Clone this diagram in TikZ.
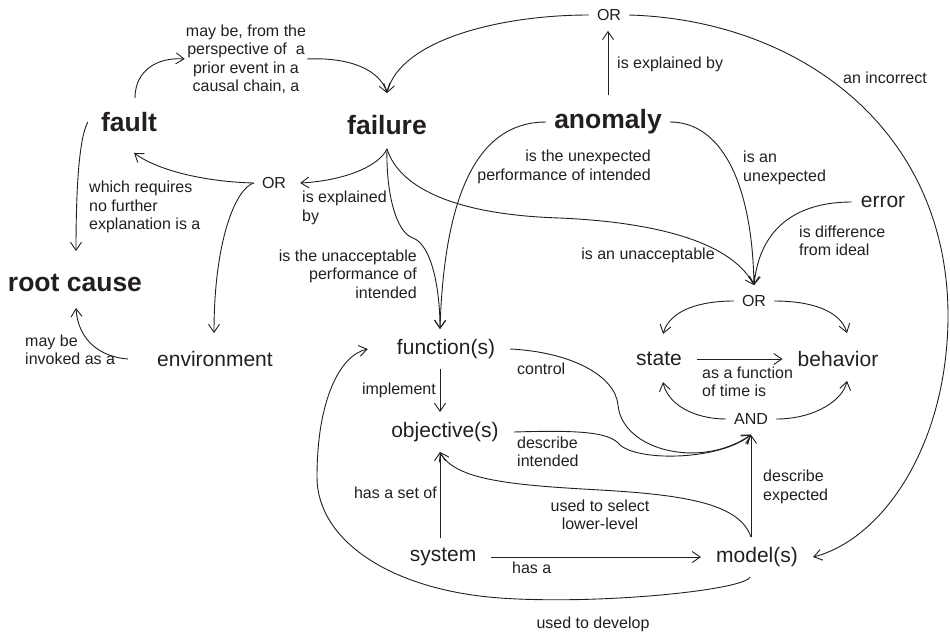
\documentclass[tikz,border=0pt]{standalone}
\usepackage{fontspec}
\setmainfont{Liberation Sans}
\usepackage{tikz}
\usetikzlibrary{arrows.meta, calc}
\definecolor{ink}{HTML}{231F20}
\tikzset{
  key_node/.style={inner xsep=8pt, inner ysep=14pt, font=\fontsize{26.5}{30}\selectfont\bfseries, text=ink},
  concept_node/.style={inner xsep=15pt, inner ysep=10pt, font=\fontsize{21}{24}\selectfont, text=ink},
  gate_node/.style={inner xsep=8pt, inner ysep=10pt, font=\fontsize{16}{18.5}\selectfont, text=ink},
  link_label/.style={inner sep=1pt, font=\fontsize{16}{18.5}\selectfont, text=ink},
  arrow/.style={-{Straight Barb[length=8pt, width=11pt]}, line width=0.9pt, draw=ink}
}

\begin{document}
\begin{tikzpicture}[x=1pt, y=-1pt]
  \useasboundingbox (0,0) rectangle (950,632);

  % Main concepts
  \node[key_node] (fault) at (129,122) {fault};
  \node[key_node] (failure) at (387,125) {failure};
  \node[key_node] (anomaly) at (608,122) {anomaly};
  \node[key_node] (root_cause) at (75,283) {root cause};
  \node[concept_node] (error) at (883,202) {error};
  \node[concept_node] (environment) at (215,359) {environment};
  \node[concept_node] (function) at (446,349) {function(s)};
  \node[concept_node] (objective) at (445,432) {objective(s)};
  \node[concept_node] (system) at (443,557) {system};
  \node[concept_node] (model) at (757,557) {model(s)};
  \node[concept_node] (state) at (659,359) {state};
  \node[concept_node] (behavior) at (838,359) {behavior};

  % Logic gates
  \node[gate_node] (or_top) at (609,15) {OR};
  \node[gate_node] (or_mid) at (274,183) {OR};
  \node[gate_node] (or_right) at (754,301) {OR};
  \node[gate_node] (and_gate) at (751,419) {AND};

  % Link labels
  \node[link_label, align=center] (lbl_prior) at (246,59) {may be, from the\\perspective of~ a\\prior event in a\\causal chain, a};
  \node[link_label, anchor=west, align=left] (lbl_nofurther) at (88,207) {which requires\\no further\\explanation is a};
  \node[link_label, anchor=west, align=left] (lbl_invoked) at (24,350) {may be\\invoked as a};
  \node[link_label, anchor=west, align=left] (lbl_fail_expl) at (301,208) {is explained\\by};
  \node[link_label, anchor=east, align=right] (lbl_unacc_perf) at (418,274) {is the unacceptable\\performance of\\intended};
  \node[link_label, anchor=west] (lbl_anom_expl) at (616,64) {is explained by};
  \node[link_label] (lbl_incorrect) at (885,78) {an incorrect};
  \node[link_label, anchor=east, align=right] (lbl_unexp_perf) at (652,167) {is the unexpected\\performance of intended};
  \node[link_label, anchor=west, align=left] (lbl_unexp) at (742,168) {is an\\unexpected};
  \node[link_label, anchor=west, align=left] (lbl_diff) at (798,241) {is difference\\from ideal};
  \node[link_label] (lbl_unacc) at (648,255) {is an unacceptable};
  \node[link_label, anchor=west, align=left] (lbl_time) at (701,382) {as a function\\of time is};
  \node[link_label, anchor=west] (lbl_control) at (516,369) {control};
  \node[link_label, anchor=west, align=left] (lbl_intended) at (516,452) {describe\\intended};
  \node[link_label, anchor=east] (lbl_implement) at (437,390) {implement};
  \node[link_label, anchor=east] (lbl_setof) at (438,493) {has a set of};
  \node[link_label, align=center] (lbl_select) at (600,515) {used to select\\lower-level};
  \node[link_label, anchor=west, align=left] (lbl_expected) at (762,487) {describe\\expected};
  \node[link_label, anchor=west] (lbl_hasa) at (511,568) {has a};
  \node[link_label] (lbl_develop) at (593,624) {used to develop};

  % fault, failure and the top OR
  \draw[arrow] ([xshift=6pt]fault.north) .. controls (135,70) and (158,57) .. (lbl_prior.west);
  \draw[arrow] (lbl_prior.east) .. controls (350,57) and (380,70) .. ([yshift=8pt]failure.north);
  \draw[arrow] (or_top.west) .. controls (500,15) and (400,40) .. ([yshift=8pt]failure.north);
  \draw[arrow] (or_top.east) .. controls (800,20) and (950,130) .. (948,320) .. controls (946,450) and (880,540) .. (model.east);
  \draw[arrow] (anomaly.north) -- (anomaly.north |- or_top.south);

  % failure
  \draw[arrow] (failure.south) .. controls (378,168) and (340,181) .. ([xshift=6pt]or_mid.east);
  \draw[arrow] (failure.south) .. controls (386,190) and (395,232) .. (413,238) .. controls (432,245) and (440,290) .. ([xshift=-6pt]function.north);
  \draw[arrow] (failure.south) .. controls (400,190) and (460,215) .. (560,218) .. controls (650,222) and (730,240) .. (or_right.north);

  % anomaly and error
  \draw[arrow] (anomaly.west) .. controls (490,122) and (445,170) .. ([xshift=-6pt]function.north);
  \draw[arrow] (anomaly.east) .. controls (720,122) and (752,180) .. (or_right.north);
  \draw[arrow] ([xshift=6pt]error.west) .. controls (800,202) and (760,225) .. (or_right.north);

  % middle OR, root cause
  \draw[arrow] (or_mid.west) .. controls (210,182) and (160,172) .. ([xshift=5pt,yshift=-7pt]fault.south);
  \draw[arrow] (or_mid.west) .. controls (236,188) and (214,240) .. ([xshift=-1pt,yshift=8pt]environment.north);
  \draw[arrow] ([xshift=-5pt]fault.west) .. controls (78,140) and (76,200) .. ([xshift=1pt,yshift=9pt]root_cause.north);
  \draw[arrow] ([xshift=-14pt]environment.west) .. controls (100,357) and (78,340) .. ([xshift=1pt,yshift=-2pt]root_cause.south);

  % function, objective, system, model
  \draw[arrow] ([xshift=-6pt]function.south) -- ([xshift=-5pt]objective.north);
  \draw[arrow] ([xshift=-3pt]system.north) -- ([xshift=-5pt]objective.south);
  \draw[arrow] (system.east) -- (model.west);
  \draw[arrow] (model.north -| and_gate.south) -- (and_gate.south);
  \draw[arrow] (model.north -| and_gate.south) .. controls (740,505) and (690,495) .. (600,490) .. controls (510,485) and (455,480) .. ([xshift=-5pt]objective.south);
  \draw[arrow] ([xshift=-7pt]model.south) .. controls (745,590) and (600,605) .. (500,598) .. controls (390,590) and (317,540) .. (317,477) .. controls (317,400) and (340,355) .. ([xshift=-14pt]function.west);
  \draw[arrow] (function.east) .. controls (570,352) and (615,375) .. (618,405) .. controls (622,450) and (700,470) .. (and_gate.south);
  \draw[arrow] (objective.east) .. controls (580,430) and (610,432) .. (620,445) .. controls (640,462) and (720,460) .. (and_gate.south);

  % state and behavior
  \draw[arrow] (or_right.west) .. controls (700,301) and (670,310) .. ([xshift=4pt,yshift=8pt]state.north);
  \draw[arrow] (or_right.east) .. controls (810,301) and (840,310) .. ([xshift=9pt,yshift=8pt]behavior.north);
  \draw[arrow] (state.east) -- (behavior.west);
  \draw[arrow] (and_gate.west) .. controls (695,419) and (668,405) .. ([xshift=4pt,yshift=-6pt]state.south);
  \draw[arrow] (and_gate.east) .. controls (815,419) and (843,400) .. ([xshift=9pt,yshift=-4pt]behavior.south);
\end{tikzpicture}
\end{document}
